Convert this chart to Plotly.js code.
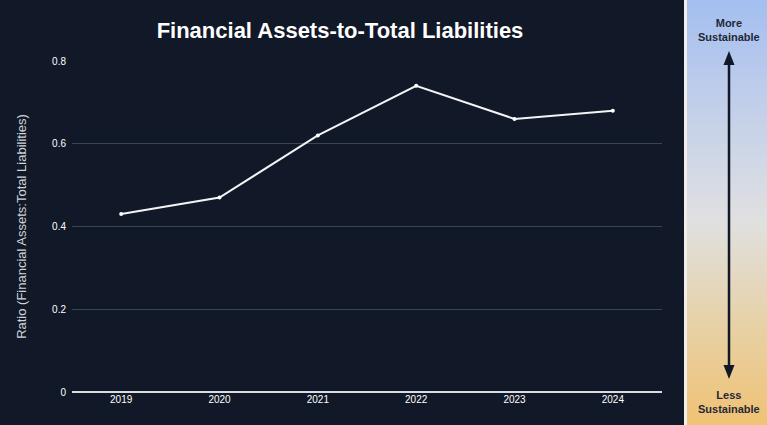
<!DOCTYPE html>
<html>
<head>
<meta charset="utf-8">
<script src="https://cdn.plot.ly/plotly-3.0.1.min.js"></script>
<style>
html,body{margin:0;padding:0;background:#111827;}
#chart{width:767px;height:425px;}
</style>
</head>
<body>
<div id="chart"></div>
<script>
const years = ['2019', '2020', '2021', '2022', '2023', '2024'];
const ratios = [0.43, 0.47, 0.62, 0.74, 0.66, 0.68];
const yTicks = [0, 0.2, 0.4, 0.6, 0.8];
const yTickLabels = ['0', '0.2', '0.4', '0.6', '0.8'];
const panelTopLabel = 'More<br>Sustainable';
const panelBottomLabel = 'Less<br>Sustainable';

const W = 767, H = 425;
const px = v => v / W;
const py = v => 1 - v / H;

const lineTrace = {
  x: years,
  y: ratios,
  type: 'scatter',
  mode: 'lines+markers',
  line: {color: '#f3f4f6', width: 2},
  marker: {color: '#ffffff', size: 4},
  hoverinfo: 'x+y',
  xaxis: 'x', yaxis: 'y'
};

const panelTrace = {
  x: [0, 1, 1, 0, 0],
  y: [0, 0, 1, 1, 0],
  type: 'scatter',
  mode: 'none',
  fill: 'toself',
  fillgradient: {
    type: 'vertical',
    colorscale: [[0, '#f0c274'], [0.25, '#e7d2aa'], [0.48, '#e0e0e0'], [0.75, '#c2cfea'], [1, '#a3bff0']]
  },
  hoverinfo: 'skip',
  showlegend: false,
  xaxis: 'x2', yaxis: 'y2'
};

const layout = {
  width: W, height: H,
  paper_bgcolor: '#111827',
  plot_bgcolor: '#111827',
  margin: {l: 0, r: 0, t: 0, b: 0},
  showlegend: false,
  font: {family: 'Liberation Sans, Arial, sans-serif', color: '#ffffff'},
  title: {
    text: '<b>Financial Assets-to-Total Liabilities</b>',
    font: {size: 22, color: '#ffffff', family: 'Liberation Sans, Arial, sans-serif'},
    x: 340 / W, xanchor: 'center', xref: 'paper',
    y: py(30), yanchor: 'middle', yref: 'paper'
  },
  xaxis: {
    domain: [px(72), px(662)],
    type: 'category',
    range: [-0.5, 5.5],
    showgrid: false,
    zeroline: false,
    showline: false,
    ticks: '',
    tickfont: {size: 10, color: '#ffffff'},
    fixedrange: true,
    anchor: 'y'
  },
  yaxis: {
    domain: [1 - 392 / H, 1 - 61 / H],
    range: [0, 0.8],
    tickvals: yTicks,
    ticktext: yTickLabels,
    tickfont: {size: 10, color: '#ffffff'},
    ticklabelstandoff: 5,
    gridcolor: '#3b4454',
    gridwidth: 1,
    zeroline: true,
    zerolinecolor: '#d9dce1',
    zerolinewidth: 1.5,
    showline: false,
    ticks: '',
    title: {
      text: 'Ratio (Financial Assets:Total Liabilities)',
      font: {size: 13, color: '#cfd3da'},
      standoff: 22
    },
    fixedrange: true,
    anchor: 'x'
  },
  xaxis2: {
    domain: [px(687), 1],
    range: [0, 1],
    visible: false,
    fixedrange: true,
    anchor: 'y2'
  },
  yaxis2: {
    domain: [0, 1],
    range: [0, 1],
    visible: false,
    fixedrange: true,
    anchor: 'x2'
  },
  shapes: [
    {type: 'rect', xref: 'paper', yref: 'paper', x0: px(684), x1: px(687), y0: 0, y1: 1,
     fillcolor: '#f2efea', line: {width: 0}, layer: 'above'},
    {type: 'line', xref: 'paper', yref: 'paper', x0: px(729), x1: px(729), y0: py(62), y1: py(367),
     line: {color: '#111827', width: 2.5}, layer: 'above'},
    {type: 'path', xref: 'paper', yref: 'paper',
     path: `M ${px(729)} ${py(51)} L ${px(734.5)} ${py(65)} L ${px(723.5)} ${py(65)} Z`,
     fillcolor: '#111827', line: {width: 0}, layer: 'above'},
    {type: 'path', xref: 'paper', yref: 'paper',
     path: `M ${px(729)} ${py(379)} L ${px(734.5)} ${py(365)} L ${px(723.5)} ${py(365)} Z`,
     fillcolor: '#111827', line: {width: 0}, layer: 'above'}
  ],
  annotations: [
    {text: '<b>' + panelTopLabel + '</b>', xref: 'paper', yref: 'paper', x: px(729), y: py(29.5),
     xanchor: 'center', yanchor: 'middle', showarrow: false, align: 'center',
     font: {size: 11, color: '#1f2937', family: 'Liberation Sans, Arial, sans-serif'}},
    {text: '<b>' + panelBottomLabel + '</b>', xref: 'paper', yref: 'paper', x: px(729), y: py(401.5),
     xanchor: 'center', yanchor: 'middle', showarrow: false, align: 'center',
     font: {size: 11, color: '#1f2937', family: 'Liberation Sans, Arial, sans-serif'}}
  ]
};

Plotly.newPlot('chart', [panelTrace, lineTrace], layout, {displayModeBar: false, staticPlot: true});
</script>
</body>
</html>
